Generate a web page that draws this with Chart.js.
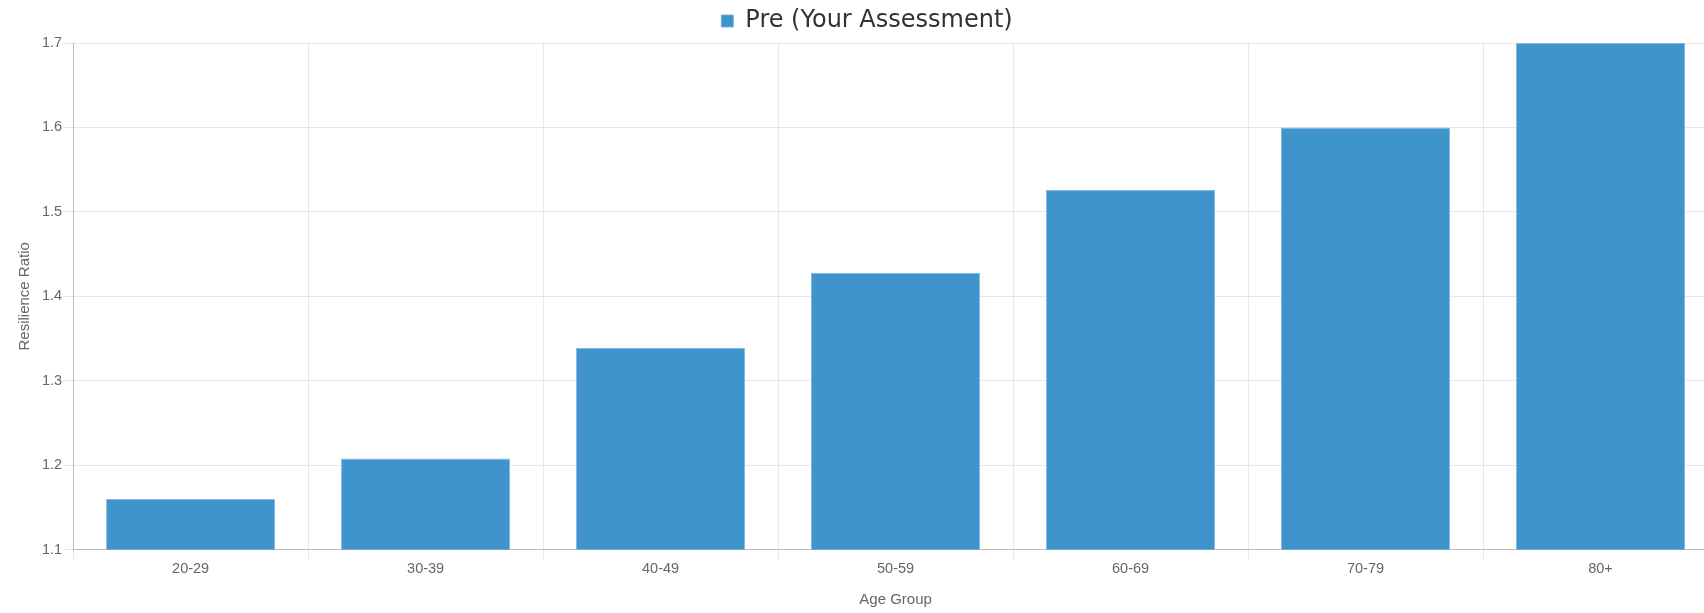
<!DOCTYPE html>
<html>
<head>
<meta charset="utf-8">
<script src="https://cdn.jsdelivr.net/npm/chart.js@4.4.0/dist/chart.umd.min.js"></script>
<style>
html, body { margin: 0; padding: 0; overflow: hidden; background: #fff; }
#wrap { position: relative; width: 1718px; height: 613px; }
</style>
</head>
<body>
<div id="wrap"><canvas id="c"></canvas></div>
<script>
const categories = ["20-29", "30-39", "40-49", "50-59", "60-69", "70-79", "80+"];
const seriesLabel = "Pre (Your Assessment)";
const preValues = [1.16, 1.208, 1.339, 1.428, 1.526, 1.6, 1.7];
const yMin = 1.1;
const yMax = 1.7;
const yTitle = "Resilience Ratio";
const xTitle = "Age Group";

const barColor = "rgb(63,148,204)";
const tickFont = { family: "'Liberation Sans', Arial, sans-serif", size: 14.5 };
const titleFont = { family: "'Liberation Sans', Arial, sans-serif", size: 15 };

new Chart(document.getElementById("c"), {
  type: "bar",
  data: {
    labels: categories,
    datasets: [{
      label: seriesLabel,
      data: preValues,
      backgroundColor: barColor,
      borderColor: "rgba(120,175,220,0.9)",
      borderWidth: 1,
      borderSkipped: "start"
    }]
  },
  options: {
    responsive: true,
    maintainAspectRatio: false,
    animation: false,
    layout: { padding: { left: 16, right: 0, top: 0, bottom: 0 } },
    plugins: {
      legend: {
        display: true,
        position: "top",
        labels: {
          boxWidth: 12,
          boxHeight: 12,
          padding: 9,
          color: "#333",
          font: { family: "'DejaVu Sans', sans-serif", size: 24 }
        }
      },
      tooltip: { enabled: false }
    },
    scales: {
      x: {
        grid: { color: "rgba(0,0,0,0.09)", tickLength: 10, offset: true },
        border: { color: "rgba(0,0,0,0.2)" },
        ticks: { color: "#666", font: tickFont, padding: 1 },
        title: { display: true, text: xTitle, color: "#666", font: titleFont, padding: { top: 12, bottom: 4 } }
      },
      y: {
        min: yMin,
        max: yMax,
        grid: { color: "rgba(0,0,0,0.09)", tickLength: 10 },
        border: { color: "rgba(0,0,0,0.2)" },
        ticks: {
          color: "#666", font: tickFont, padding: 1, stepSize: 0.1,
          callback: (v) => Number(v).toFixed(1)
        },
        title: { display: true, text: yTitle, color: "#666", font: titleFont, padding: { top: 0, bottom: 7 } }
      }
    }
  }
});
</script>
</body>
</html>
